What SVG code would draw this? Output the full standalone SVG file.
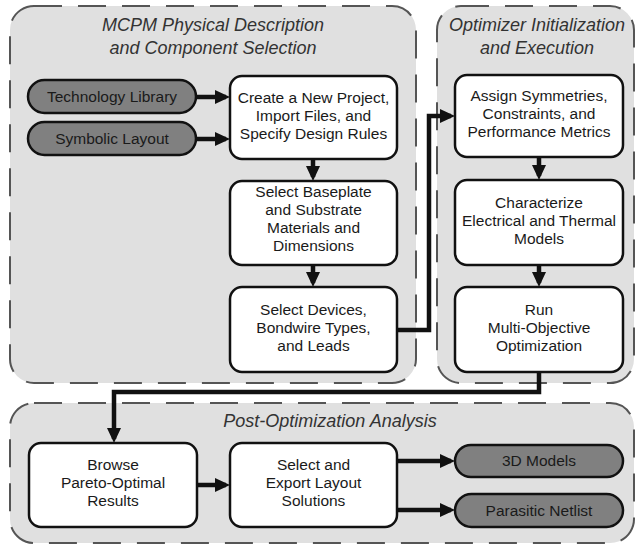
<svg xmlns="http://www.w3.org/2000/svg" width="638" height="547" viewBox="0 0 638 547">
<defs>
<style>
.panel{fill:#e0e0e0;stroke:#555;stroke-width:2;stroke-dasharray:28 16}
.box{fill:#fff;stroke:#111;stroke-width:2.5}
.pill{fill:#808080;stroke:#111;stroke-width:2.5}
.t{font-family:"Liberation Sans",Arial,sans-serif;font-size:15.5px;fill:#1a1a1a;text-anchor:middle}
.title{font-family:"Liberation Sans",Arial,sans-serif;font-size:18px;font-style:italic;fill:#333;text-anchor:middle}
.c{fill:none;stroke:#111;stroke-width:4.5;stroke-linejoin:miter}
</style>
<marker id="ah" markerUnits="userSpaceOnUse" markerWidth="15" markerHeight="14" refX="11" refY="7" orient="auto">
<path d="M0,0 L15,7 L0,14 z" fill="#111"/>
</marker>
</defs>
<g id="panel-mcpm">
<rect class="panel" x="10" y="6" width="406" height="377" rx="24"/>
<text class="title" x="213" y="31">MCPM Physical Description</text>
<text class="title" x="213" y="54">and Component Selection</text>
</g>
<g id="panel-optimizer">
<rect class="panel" x="437" y="6" width="197" height="377" rx="24"/>
<text class="title" x="537" y="31">Optimizer Initialization</text>
<text class="title" x="537" y="54">and Execution</text>
</g>
<g id="panel-post">
<rect class="panel" x="10" y="403" width="624" height="140" rx="24"/>
<text class="title" x="330" y="427">Post-Optimization Analysis</text>
</g>
<g id="connectors">
<path class="c" d="M196,97 H226" marker-end="url(#ah)"/>
<path class="c" d="M196,139 H226" marker-end="url(#ah)"/>
<path class="c" d="M313,159 V177" marker-end="url(#ah)"/>
<path class="c" d="M313,265 V283" marker-end="url(#ah)"/>
<path class="c" d="M397,330 H429 V116 H451" marker-end="url(#ah)"/>
<path class="c" d="M539,157 V176" marker-end="url(#ah)"/>
<path class="c" d="M539,265 V283" marker-end="url(#ah)"/>
<path class="c" d="M539,372 V392 H114 V439" marker-end="url(#ah)"/>
<path class="c" d="M197,485 H226" marker-end="url(#ah)"/>
<path class="c" d="M397,461 H451" marker-end="url(#ah)"/>
<path class="c" d="M397,510 H451" marker-end="url(#ah)"/>
</g>
<g id="tech-library">
<rect class="pill" x="28" y="80" width="168" height="33" rx="16.5"/>
<text class="t" x="112" y="102">Technology Library</text>
</g>
<g id="symbolic-layout">
<rect class="pill" x="28" y="122" width="168" height="33" rx="16.5"/>
<text class="t" x="112" y="144">Symbolic Layout</text>
</g>
<g id="create-project">
<rect class="box" x="230" y="76" width="167" height="83" rx="12"/>
<text class="t" x="313.5" y="102.5">Create a New Project,</text>
<text class="t" x="313.5" y="120.5">Import Files, and</text>
<text class="t" x="313.5" y="138.5">Specify Design Rules</text>
</g>
<g id="select-baseplate">
<rect class="box" x="230" y="181" width="167" height="84" rx="12"/>
<text class="t" x="313.5" y="197">Select Baseplate</text>
<text class="t" x="313.5" y="215">and Substrate</text>
<text class="t" x="313.5" y="233">Materials and</text>
<text class="t" x="313.5" y="251">Dimensions</text>
</g>
<g id="select-devices">
<rect class="box" x="230" y="287" width="167" height="85" rx="12"/>
<text class="t" x="313.5" y="314.5">Select Devices,</text>
<text class="t" x="313.5" y="332.5">Bondwire Types,</text>
<text class="t" x="313.5" y="350.5">and Leads</text>
</g>
<g id="assign">
<rect class="box" x="455" y="75" width="168" height="82" rx="12"/>
<text class="t" x="539" y="101">Assign Symmetries,</text>
<text class="t" x="539" y="119">Constraints, and</text>
<text class="t" x="539" y="137">Performance Metrics</text>
</g>
<g id="characterize">
<rect class="box" x="455" y="180" width="168" height="85" rx="12"/>
<text class="t" x="539" y="207.5">Characterize</text>
<text class="t" x="539" y="225.5">Electrical and Thermal</text>
<text class="t" x="539" y="243.5">Models</text>
</g>
<g id="run">
<rect class="box" x="455" y="287" width="168" height="85" rx="12"/>
<text class="t" x="539" y="314.5">Run</text>
<text class="t" x="539" y="332.5">Multi-Objective</text>
<text class="t" x="539" y="350.5">Optimization</text>
</g>
<g id="browse">
<rect class="box" x="29" y="443" width="168" height="84" rx="12"/>
<text class="t" x="113" y="470">Browse</text>
<text class="t" x="113" y="488">Pareto-Optimal</text>
<text class="t" x="113" y="506">Results</text>
</g>
<g id="export">
<rect class="box" x="230" y="443" width="167" height="84" rx="12"/>
<text class="t" x="313.5" y="470">Select and</text>
<text class="t" x="313.5" y="488">Export Layout</text>
<text class="t" x="313.5" y="506">Solutions</text>
</g>
<g id="models-3d">
<rect class="pill" x="455" y="445" width="168" height="32" rx="16"/>
<text class="t" x="539" y="466">3D Models</text>
</g>
<g id="parasitic-netlist">
<rect class="pill" x="455" y="494" width="168" height="33" rx="16.5"/>
<text class="t" x="539" y="516">Parasitic Netlist</text>
</g>
</svg>
